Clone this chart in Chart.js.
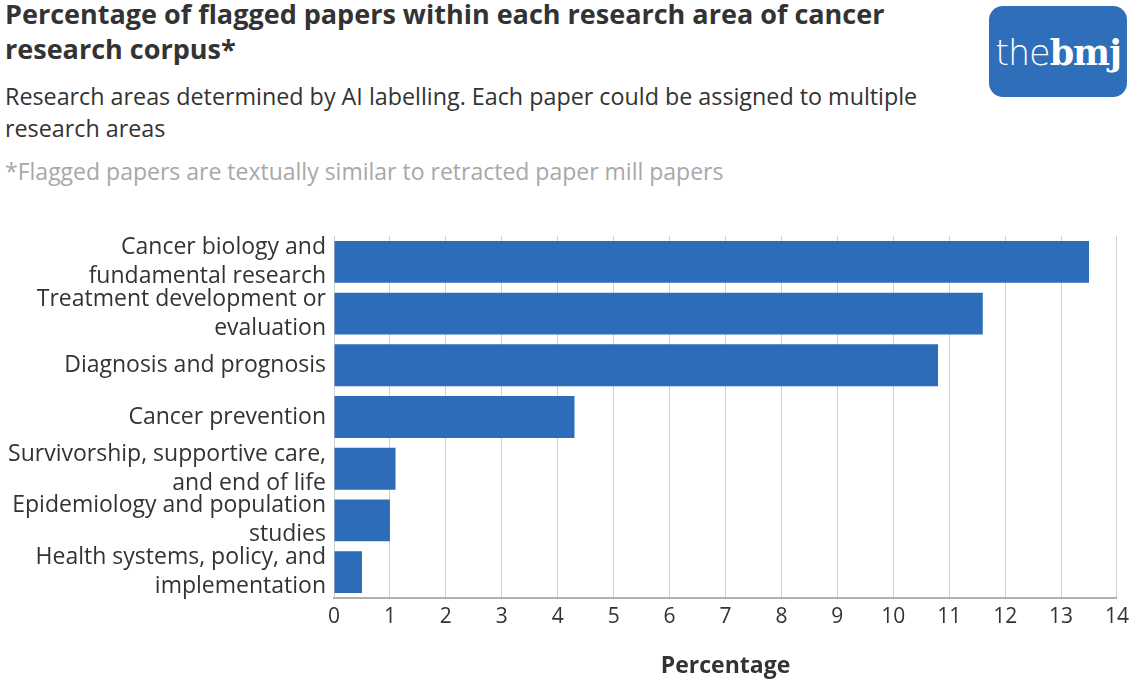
<!DOCTYPE html>
<html>
<head>
<meta charset="utf-8">
<script src="https://cdn.jsdelivr.net/npm/chart.js@4.4.1/dist/chart.umd.min.js"></script>
<style>
  body { margin: 0; background: #fff; font-family: "Open Sans", sans-serif; color: #333; }
  #wrap { position: relative; width: 1135px; height: 688px; overflow: hidden; }
  #title { position: absolute; left: 5px; top: -4px; font-size: 27px; font-weight: 700; line-height: 35px; color: #333; white-space: nowrap; }
  #subtitle { position: absolute; left: 5px; top: 80px; font-size: 23.3px; line-height: 32px; color: #333; white-space: nowrap; }
  #note { position: absolute; left: 5px; top: 155px; font-size: 23px; line-height: 32px; color: #a8a8a8; white-space: nowrap; }
  #logo { position: absolute; left: 989px; top: 6px; width: 138px; height: 91px; border-radius: 14px; background: #2f6fba;
          color: #fff; text-align: center; line-height: 91px; font-size: 35px; letter-spacing: -1px; }
  #logo .the { font-family: "DejaVu Sans", sans-serif; font-weight: 200; }
  #logo .bmj { font-family: "DejaVu Serif", serif; font-weight: 700; }
  #chartBox { position: absolute; left: 0; top: 226px; width: 1135px; height: 456px; }
</style>
</head>
<body>
<div id="wrap">
  <div id="title">Percentage of flagged papers within each research area of cancer<br>research corpus*</div>
  <div id="subtitle">Research areas determined by AI labelling. Each paper could be assigned to multiple<br>research areas</div>
  <div id="note">*Flagged papers are textually similar to retracted paper mill papers</div>
  <div id="logo"><span class="the">the</span><span class="bmj">bmj</span></div>
  <div id="chartBox"><canvas id="flaggedChart"></canvas></div>
</div>
<script>
  // research areas (two-line labels as in the original)
  var areas = [
    ["Cancer biology and", "fundamental research"],
    ["Treatment development or", "evaluation"],
    "Diagnosis and prognosis",
    "Cancer prevention",
    ["Survivorship, supportive care,", "and end of life"],
    ["Epidemiology and population", "studies"],
    ["Health systems, policy, and", "implementation"]
  ];
  // percentage of flagged papers
  var flaggedPct = [13.5, 11.6, 10.8, 4.3, 1.1, 1.0, 0.5];
  var xTicks = [0, 1, 2, 3, 4, 5, 6, 7, 8, 9, 10, 11, 12, 13, 14];

  var ctx = document.getElementById("flaggedChart").getContext("2d");
  new Chart(ctx, {
    type: "bar",
    data: {
      labels: areas,
      datasets: [{
        label: "Percentage",
        data: flaggedPct,
        backgroundColor: "#2c6cb9",
        borderWidth: 0,
        barPercentage: 0.81,
        categoryPercentage: 1
      }]
    },
    options: {
      indexAxis: "y",
      responsive: true,
      maintainAspectRatio: false,
      animation: false,
      layout: { padding: { top: 10, right: 17, bottom: 0, left: 0 } },
      plugins: { legend: { display: false }, tooltip: { enabled: false } },
      scales: {
        x: {
          min: 0,
          max: 14,
          afterBuildTicks: function (scale) {
            scale.ticks = xTicks.map(function (v) { return { value: v }; });
          },
          afterFit: function (scale) { scale.height = 84; },
          grid: { color: "#d0d0d0", lineWidth: 1, drawTicks: false },
          border: { display: true, color: "#b0b0b0", width: 2 },
          ticks: { color: "#333", font: { family: "Open Sans", size: 21 }, padding: 6, maxRotation: 0, autoSkip: false },
          title: {
            display: true,
            text: "Percentage",
            color: "#333",
            font: { family: "Open Sans", size: 23, weight: "bold" },
            padding: { top: 0, bottom: 2 }
          }
        },
        y: {
          afterFit: function (scale) {
            scale.width = 334;
            scale.paddingTop = 0;
            scale.paddingBottom = 0;
          },
          grid: { display: false, drawTicks: false },
          border: { display: false },
          ticks: { color: "#333", font: { family: "Open Sans", size: 23, lineHeight: 1.26 }, padding: 8, autoSkip: false }
        }
      }
    }
  });
</script>
</body>
</html>
